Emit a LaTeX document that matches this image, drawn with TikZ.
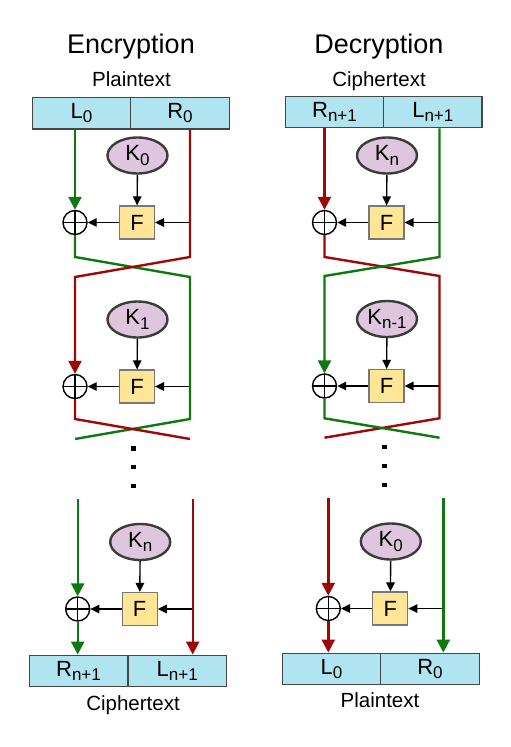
\documentclass[tikz,border=0pt]{standalone}
\usepackage{fontspec}
\setmainfont{Liberation Sans}
\usetikzlibrary{arrows.meta,shapes.geometric}
\definecolor{cgreen}{RGB}{16,120,16}
\definecolor{cred}{RGB}{158,8,8}
\definecolor{boxfill}{RGB}{176,228,240}
\definecolor{boxedge}{RGB}{70,70,70}
\definecolor{keyfill}{RGB}{222,198,222}
\definecolor{keyedge}{RGB}{60,60,60}
\definecolor{ffill}{RGB}{255,229,150}
\definecolor{fedge}{RGB}{120,120,120}
\newcommand{\fs}[1]{\fontsize{#1}{#1}\selectfont}
\newcommand{\sub}[1]{\raisebox{-0.2em}{\fs{17}#1}}
% one round: xor, F box, key, and the three black arrows
\newcommand{\feistel}[4]{%
  \node[xorc] (#1x) at (#2,#3) {};
  \node[fbox] (#1f) at (#2+62,#3) {F};
  \node[keyc] (#1k) at (#2+62.5,#3-67) {#4};
  \coordinate (#1in) at (#2+115,#3);
  \draw[blk] (#1k) -- (#1f);
  \draw[blk] (#1in) -- (#1f);
  \draw[blk] (#1f) -- (#1x);
}

\begin{document}
\begin{tikzpicture}[x=1pt,y=-1pt,
    halfbox/.style={rectangle,draw=boxedge,fill=boxfill,line width=1.3pt,minimum width=98.5pt,minimum height=31.5pt,inner sep=0pt,font=\fs{22}},
    xorc/.style={circle,draw,line width=1.4pt,minimum size=24pt,inner sep=0pt,
      path picture={\draw[line width=1.2pt] (path picture bounding box.north) -- (path picture bounding box.south)
        (path picture bounding box.west) -- (path picture bounding box.east);}},
    fbox/.style={rectangle,draw=fedge,fill=ffill,line width=1.2pt,minimum width=35pt,minimum height=33pt,inner sep=0pt,font=\fs{22}},
    keyc/.style={ellipse,draw=keyedge,fill=keyfill,line width=2.4pt,minimum width=60pt,minimum height=36pt,inner sep=0pt,font=\fs{22}},
    blk/.style={-{Triangle[length=9pt,width=8.5pt]},line width=1.4pt},
    wire/.style={line width=2.4pt},
    colarrow/.style={-{Triangle[length=13pt,width=13pt]}},
    heading/.style={anchor=base,font=\fs{27}},
    lbl/.style={anchor=base,font=\fs{20.5}}]
  \useasboundingbox (0,0) rectangle (511,747);

  % encryption
  \node[heading] (enc) at (131,53.3) {Encryption};
  \node[lbl] (encin) at (131.5,86.5) {Plaintext};
  \node[halfbox] (el0) at (81.5,113.2) {L\sub{0}};
  \node[halfbox] (er0) at (180,113.2) {R\sub{0}};
  \feistel{e1}{75}{222.5}{K\sub{0}}
  \feistel{e2}{75}{386.5}{K\sub{1}}
  \feistel{e3}{77.7}{609}{K\sub{n}}
  \node[halfbox] (eb1) at (78.5,671) {R\sub{n+1}};
  \node[halfbox] (eb2) at (177.2,671) {L\sub{n+1}};
  \node[lbl] (encout) at (133,710) {Ciphertext};
  \coordinate (ea) at (75,257);   \coordinate (eb) at (190,257);
  \coordinate (ec) at (75,277);   \coordinate (ed) at (190,277);
  \coordinate (ee) at (75,419);   \coordinate (ef) at (190,419);
  \coordinate (eg) at (75,439);   \coordinate (eh) at (190,439);
  \coordinate (ei) at (77.7,499); \coordinate (ej) at (192.7,499);
  \draw[wire,cgreen,colarrow] (e1x |- el0.south) -- (e1x);
  \draw[wire,cgreen] (e1x) -- (ea) -- (ed) -- (ef) -- (eg);
  \draw[wire,cred,colarrow] (e1in |- er0.south) -- (eb) -- (ec) -- (e2x);
  \draw[wire,cred] (e2x) -- (ee) -- (eh);
  \draw[wire,cgreen,colarrow] (ei) -- (e3x);
  \draw[wire,cgreen,colarrow] (e3x) -- (e3x |- eb1.north);
  \draw[wire,cred,colarrow] (ej) -- (e3in) -- (e3in |- eb2.north);
  \foreach \y in {448.3,466.7,486} \fill (131.1,\y-2.2) rectangle ++(4.4,4.4);

  % decryption
  \node[heading] (dec) at (379,53.3) {Decryption};
  \node[lbl] (decin) at (379,86.5) {Ciphertext};
  \node[halfbox] (dr0) at (334.5,112) {R\sub{n+1}};
  \node[halfbox] (dl0) at (432.8,112) {L\sub{n+1}};
  \feistel{d1}{324.5}{222.5}{K\sub{n}}
  \feistel{d2}{324.5}{386}{K\sub{n-1}}
  \feistel{d3}{328.3}{608.5}{K\sub{0}}
  \node[halfbox] (db1) at (331.5,669) {L\sub{0}};
  \node[halfbox] (db2) at (430,669) {R\sub{0}};
  \node[lbl] (decout) at (380,707.7) {Plaintext};
  \coordinate (da) at (324.5,257);   \coordinate (db) at (439.5,257);
  \coordinate (dc) at (324.5,276);   \coordinate (dd) at (439.5,276);
  \coordinate (de) at (324.5,418.3); \coordinate (df) at (439.5,418.3);
  \coordinate (dg) at (324.5,437.7); \coordinate (dh) at (439.5,437.7);
  \coordinate (di) at (328.3,498.3); \coordinate (dj) at (443.3,498.3);
  \draw[wire,cred,colarrow] (d1x |- dr0.south) -- (d1x);
  \draw[wire,cred] (d1x) -- (da) -- (dd) -- (df) -- (dg);
  \draw[wire,cgreen,colarrow] (d1in |- dl0.south) -- (db) -- (dc) -- (d2x);
  \draw[wire,cgreen] (d2x) -- (de) -- (dh);
  \draw[wire,cred,colarrow] (di) -- (d3x);
  \draw[wire,cred,colarrow] (d3x) -- (d3x |- db1.north);
  \draw[wire,cgreen,colarrow] (dj) -- (d3in) -- (d3in |- db2.north);
  \foreach \y in {446.7,466,485} \fill (382.1,\y-2.2) rectangle ++(4.4,4.4);
\end{tikzpicture}
\end{document}
